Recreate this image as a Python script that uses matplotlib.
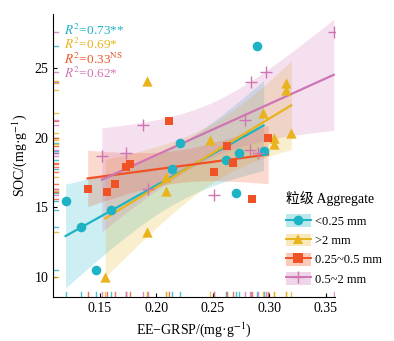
import numpy as np
import matplotlib
matplotlib.use('Agg')
import matplotlib.pyplot as plt
from matplotlib.patches import Patch
from matplotlib.lines import Line2D

plt.rcParams['font.family'] = ['Liberation Serif', 'Noto Sans CJK SC']
plt.rcParams['mathtext.fontset'] = 'stix'

# <0.25 mm
x_a = [0.120, 0.134, 0.147, 0.160, 0.214, 0.221, 0.262, 0.273, 0.295, 0.271, 0.289]
y_a = [15.46, 13.6, 10.5, 14.8, 17.75, 19.6, 18.4, 18.9, 19.05, 16.0, 26.6]
# >2 mm
x_b = [0.192, 0.2085, 0.2085, 0.192, 0.155, 0.3147, 0.3147, 0.2946, 0.248, 0.3046, 0.3046, 0.3195]
y_b = [24.1, 17.2, 16.2, 13.25, 10.0, 23.95, 23.4, 21.8, 19.86, 20.0, 19.55, 20.3]
# 0.25~0.5 mm
x_c = [0.2115, 0.1395, 0.157, 0.1637, 0.1735, 0.177, 0.2625, 0.268, 0.2515, 0.299, 0.2846]
y_c = [21.2, 16.3, 16.1, 16.7, 17.9, 18.1, 19.4, 18.16, 17.56, 20.0, 15.6]
# 0.5~2 mm
x_d = [0.152, 0.1735, 0.1887, 0.193, 0.2507, 0.2787, 0.283, 0.290, 0.2834, 0.2973, 0.357]
y_d = [18.7, 18.9, 20.9, 16.3, 15.9, 21.3, 19.1, 18.9, 24.0, 24.7, 27.6]

labels = ['<0.25 mm', '>2 mm', '0.25~0.5 mm', '0.5~2 mm']
r2_texts = [r'$R^2$=0.73**', r'$R^2$=0.69*', r'$R^2$=0.33$^{\rm NS}$', r'$R^2$=0.62*']

colors = ['#1db3c4', '#e8b31c', '#f05226', '#cf74b4']
markers = ['o', '^', 's', '+']
sizes = [48, 55, 38, 70]

t_975 = {9: 2.262, 10: 2.228}

fig = plt.figure(figsize=(3.94, 3.41), dpi=100)
ax = fig.add_axes([0.135, 0.129, 0.715, 0.83])

groups = [(x_a, y_a), (x_b, y_b), (x_c, y_c), (x_d, y_d)]
for i, (xs, ys) in enumerate(groups):
    xs = np.array(xs)
    ys = np.array(ys)
    n = len(xs)
    b, a = np.polyfit(xs, ys, 1)
    grid = np.linspace(xs.min(), xs.max(), 100)
    fit = a + b * grid
    resid = ys - (a + b * xs)
    s = np.sqrt(np.sum(resid ** 2) / (n - 2))
    sxx = np.sum((xs - xs.mean()) ** 2)
    se = s * np.sqrt(1.0 / n + (grid - xs.mean()) ** 2 / sxx)
    t = t_975[n - 2]
    ax.fill_between(grid, fit - t * se, fit + t * se, color=colors[i], alpha=0.22, lw=0, zorder=1)
    ax.plot(grid, fit, color=colors[i], lw=1.6, zorder=3)
    if markers[i] == '+':
        ax.scatter(xs, ys, marker='+', s=sizes[i], color=colors[i], linewidths=1.0, zorder=4)
    else:
        ax.scatter(xs, ys, marker=markers[i], s=sizes[i], color=colors[i], linewidths=0, zorder=4)
    # rugs
    for v in xs:
        ax.plot([v, v], [0, 0.018], transform=ax.get_xaxis_transform(), color=colors[i], lw=1, alpha=0.8, zorder=2)
    for v in ys:
        ax.plot([0, 0.018], [v, v], transform=ax.get_yaxis_transform(), color=colors[i], lw=1, alpha=0.8, zorder=2)

for i, txt in enumerate(r2_texts):
    ax.text(0.04, 0.943 - i * 0.051, txt, transform=ax.transAxes, color=colors[i],
            fontsize=9.5, va='center', ha='left')

ax.set_xlim(0.109, 0.358)
ax.set_ylim(8.56, 28.88)
ax.set_xticks([0.15, 0.20, 0.25, 0.30, 0.35])
ax.set_xticklabels(['0.15', '0.20', '0.25', '0.30', '0.35'])
ax.set_yticks([10, 15, 20, 25])
ax.tick_params(direction='in', length=3, width=0.8, labelsize=10)
ax.spines['top'].set_visible(False)
ax.spines['right'].set_visible(False)
ax.set_xlabel('EE−GRSP/(mg·g$^{-1}$)', fontsize=10, labelpad=4)
ax.set_ylabel('SOC/(mg·g$^{-1}$)', fontsize=10, labelpad=4)

handles = []
for i in range(4):
    bg = Patch(facecolor=colors[i], alpha=0.3, edgecolor='none')
    if markers[i] == '+':
        ln = Line2D([], [], color=colors[i], lw=1.4, marker='+', markersize=9, markeredgewidth=1.0)
    else:
        ln = Line2D([], [], color=colors[i], lw=1.4, marker=markers[i], markersize=7, markeredgewidth=0)
    handles.append((bg, ln))

leg = fig.legend(handles, labels, title='粒级 Aggregate', loc='upper left',
                 bbox_to_anchor=(0.725, 0.44), frameon=False, fontsize=9,
                 title_fontsize=10, handlelength=2.0, handleheight=1.2,
                 labelspacing=0.45, handletextpad=0.35, borderpad=0.0,
                 borderaxespad=0.0)
leg._legend_box.align = 'left'
leg._legend_box.sep = 6

fig.savefig('out.png', dpi=100)
